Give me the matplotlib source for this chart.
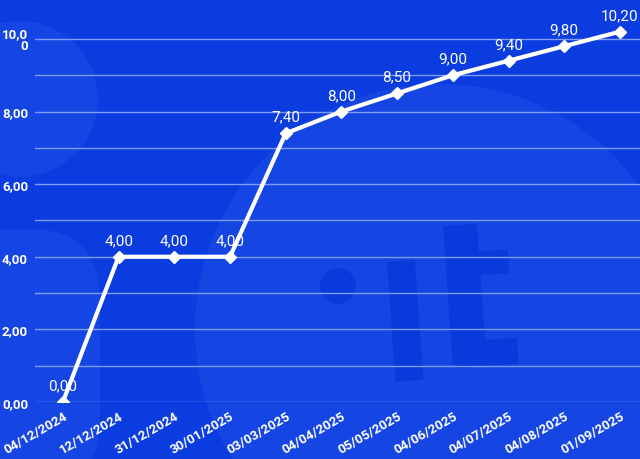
import matplotlib.pyplot as plt
from matplotlib.patches import Circle, FancyBboxPatch, Rectangle

dates = ['04/12/2024', '12/12/2024', '31/12/2024', '30/01/2025', '03/03/2025',
         '04/04/2025', '05/05/2025', '04/06/2025', '04/07/2025', '04/08/2025',
         '01/09/2025']
values = [0.00, 4.00, 4.00, 4.00, 7.40, 8.00, 8.50, 9.00, 9.40, 9.80, 10.20]
ytick_vals = [0, 2, 4, 6, 8, 10]
ytick_labels = ['0,00', '2,00', '4,00', '6,00', '8,00', '10,0\n0']

bg = '#0b3ce0'
light = '#1545e2'
dark = '#0a3adc'
plt.rcParams['font.family'] = ['Roboto', 'DejaVu Sans']

fig = plt.figure(figsize=(6.4, 4.6), dpi=100)
fig.patch.set_facecolor(bg)

# faint watermark (".it" logo) behind the chart
wm = fig.add_axes([0, 0, 1, 1])
wm.set_xlim(0, 640)
wm.set_ylim(460, 0)
wm.axis('off')
wm.add_patch(Circle((440, 330), 245, color=light, lw=0))
wm.add_patch(Circle((20, 100), 78, color=light, lw=0))
wm.add_patch(FancyBboxPatch((-60, 230), 160, 260, boxstyle='round,pad=0,rounding_size=70',
                            color=light, lw=0))
wm.add_patch(Circle((338, 287), 18, color=dark, lw=0))
wm.add_patch(Rectangle((387, 263), 28, 120, angle=-4, color=dark, lw=0))
wm.add_patch(Rectangle((443, 227), 34, 140, angle=-4, color=dark, lw=0))
wm.add_patch(Rectangle((470, 253), 38, 24, angle=-4, color=dark, lw=0))
wm.add_patch(Rectangle((455, 343), 62, 26, angle=-4, color=dark, lw=0))

ax = fig.add_axes([35 / 640, 57 / 460, 605 / 640, 403 / 460])
ax.set_facecolor('none')
x = list(range(len(dates)))

for v in range(0, 11):
    ax.axhline(v, color='#7f9cf2', lw=1.0, zorder=1)

ax.plot(x, values, color='white', lw=3, marker='D', markersize=6, zorder=3)
for xi, v in zip(x, values):
    ax.annotate(f'{v:.2f}'.replace('.', ','), (xi, v), xytext=(0, 7),
                textcoords='offset points', ha='center', va='bottom',
                color='white', fontsize=11, zorder=4)

ax.set_xlim(-0.5, 10.36)
ax.set_ylim(0, 11.1)
ax.set_xticks(x)
ax.set_xticklabels(dates, rotation=30, ha='right', rotation_mode='anchor',
                   color='white', fontsize=9.5, fontweight='bold')
ax.set_yticks(ytick_vals)
ax.set_yticklabels(ytick_labels, color='white', fontsize=9.5, fontweight='bold',
                   linespacing=0.9)
ax.tick_params(length=0, pad=5)
for s in ax.spines.values():
    s.set_visible(False)

fig.savefig('out.png', dpi=100, facecolor=bg)
